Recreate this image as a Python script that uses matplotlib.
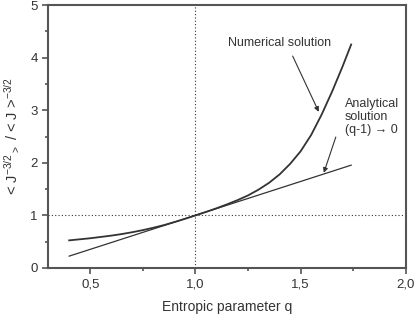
import matplotlib
matplotlib.use("Agg")
import matplotlib.pyplot as plt
from matplotlib.ticker import MultipleLocator, FuncFormatter

plt.rcParams['font.family'] = ['Liberation Sans', 'DejaVu Sans']
plt.rcParams['mathtext.default'] = 'regular'

# numerical solution
q_num = [0.40, 0.45, 0.50, 0.55, 0.60, 0.65, 0.70, 0.75, 0.80, 0.85, 0.90, 0.95,
         1.00, 1.05, 1.10, 1.15, 1.20, 1.25, 1.30, 1.35, 1.40, 1.45, 1.50, 1.55,
         1.60, 1.65, 1.70, 1.74]
y_num = [0.525, 0.545, 0.565, 0.59, 0.615, 0.645, 0.68, 0.72, 0.765, 0.815, 0.873, 0.935,
         1.00, 1.066, 1.135, 1.21, 1.29, 1.38, 1.49, 1.62, 1.78, 1.98, 2.22, 2.53,
         2.92, 3.36, 3.84, 4.25]

# analytical solution (straight line)
q_ana = [0.40, 1.00, 1.74]
y_ana = [0.225, 1.00, 1.955]

xticks = [0.5, 1.0, 1.5, 2.0]
yticks = [0, 1, 2, 3, 4, 5]

ink = '#333333'
axcol = '#555555'

fig = plt.figure(figsize=(4.15, 3.16), dpi=100)
ax = fig.add_axes([0.116, 0.152, 0.862, 0.832])

ax.axhline(1.0, color=ink, lw=0.8, ls=(0, (1, 2)))
ax.axvline(1.0, color=ink, lw=0.8, ls=(0, (1, 2)))

ax.plot(q_num, y_num, color=ink, lw=1.3)
ax.plot(q_ana, y_ana, color=ink, lw=0.9)

ax.set_xlim(0.3, 2.0)
ax.set_ylim(0, 5)
ax.set_xticks(xticks)
ax.set_yticks(yticks)
ax.xaxis.set_minor_locator(MultipleLocator(0.25))
ax.yaxis.set_minor_locator(MultipleLocator(0.5))
ax.xaxis.set_major_formatter(FuncFormatter(lambda v, p: ('%.1f' % v).replace('.', ',')))

for s in ax.spines.values():
    s.set_color(axcol)
    s.set_linewidth(1.5)
ax.tick_params(which='both', direction='out', color=axcol, width=1.2, labelsize=9.5,
               labelcolor=ink)
ax.tick_params(which='major', length=4)
ax.tick_params(which='minor', length=2.5)

ax.set_xlabel('Entropic parameter q', fontsize=10, color=ink, labelpad=7)
ax.set_ylabel('< J$^{-3/2}$$_{>}$ / < J >$^{-3/2}$', fontsize=10.5, color=ink, labelpad=7)

ax.text(1.40, 4.28, 'Numerical solution', ha='center', va='center', fontsize=9, color=ink)
ax.annotate('', xy=(1.586, 2.97), xytext=(1.462, 4.03),
            arrowprops=dict(arrowstyle='-|>', color=ink, lw=0.8, mutation_scale=7,
                            shrinkA=0, shrinkB=0))
ax.text(1.71, 2.87, 'Analytical\nsolution\n(q-1) \u2192 0', ha='left', va='center',
        fontsize=9, color=ink, linespacing=1.15)
ax.annotate('', xy=(1.61, 1.81), xytext=(1.667, 2.49),
            arrowprops=dict(arrowstyle='-|>', color=ink, lw=0.8, mutation_scale=7,
                            shrinkA=0, shrinkB=0))

fig.savefig('out.png', dpi=100)
